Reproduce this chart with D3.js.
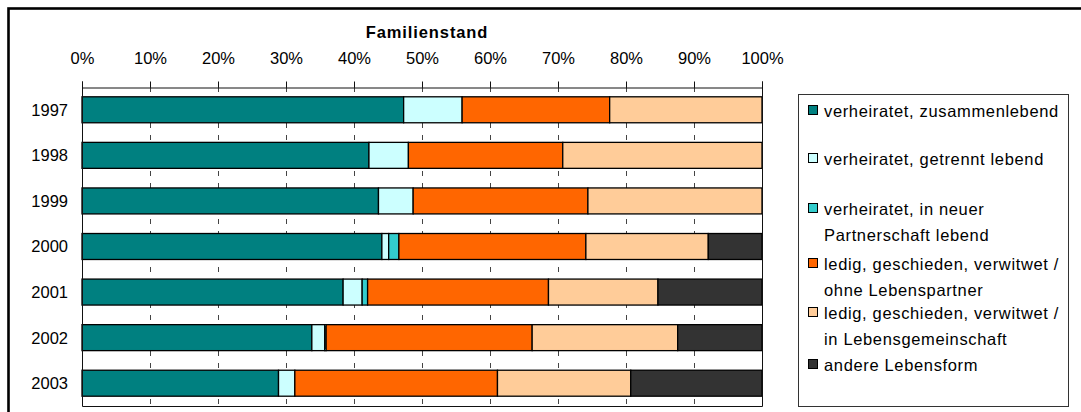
<!DOCTYPE html>
<html>
<head>
<meta charset="utf-8">
<script src="https://cdn.jsdelivr.net/npm/d3@7"></script>
<style>
  body { margin: 0; background: #fff; }
  svg { display: block; }
  text { font-family: Arial, "Liberation Sans", sans-serif; fill: #000; }
</style>
</head>
<body>
<svg id="chart" width="1081" height="412"></svg>
<script>
// data (percent of each year)
const years = ["1997", "1998", "1999", "2000", "2001", "2002", "2003"];
const zusammen   = [47.3, 42.2, 43.6, 44.1, 38.4, 33.8, 28.9];
const getrennt   = [8.6, 5.8, 5.1, 1.0, 2.8, 1.9, 2.4];
const neuePartn  = [0, 0, 0, 1.5, 0.8, 0.2, 0];
const ohnePartn  = [21.7, 22.7, 25.7, 27.5, 26.6, 30.3, 29.8];
const inGemeinsch = [22.4, 29.3, 25.6, 18.0, 16.1, 21.4, 19.6];
const andere     = [0, 0, 0, 7.9, 15.3, 12.4, 19.3];
const tickValues = [0, 10, 20, 30, 40, 50, 60, 70, 80, 90, 100];
const seriesNames = [
  ["verheiratet, zusammenlebend"],
  ["verheiratet, getrennt lebend"],
  ["verheiratet, in neuer", "Partnerschaft lebend"],
  ["ledig, geschieden, verwitwet /", "ohne Lebenspartner"],
  ["ledig, geschieden, verwitwet /", "in Lebensgemeinschaft"],
  ["andere Lebensform"]
];
const colors = ["#008080", "#ccffff", "#33cccc", "#ff6600", "#ffcc99", "#333333"];

const allSeries = [zusammen, getrennt, neuePartn, ohnePartn, inGemeinsch, andere];
const keys = d3.range(allSeries.length).map(String);
const rows = years.map(function(yr, i) {
  var r = { year: yr };
  allSeries.forEach(function(s, k) { r[k] = s[i]; });
  return r;
});

var svg = d3.select("#chart");

// outer frame
svg.append("rect")
    .attr("x", 8.5).attr("y", 8.5)
    .attr("width", 1200).attr("height", 600)
    .attr("fill", "none").attr("stroke", "#000").attr("stroke-width", 2.6);

var plotL = 82, plotR = 762, plotT = 87, plotB = 406;

var x = d3.scaleLinear().domain([0, 100]).range([plotL, plotR]);
var y = d3.scaleBand().domain(years).range([plotT, plotB])
    .paddingInner(0.43).paddingOuter(0.215);

// dashed gridlines
svg.append("g").selectAll("line")
    .data(tickValues.slice(1, -1))
    .join("line")
    .attr("x1", d => x(d) + 0.5).attr("x2", d => x(d) + 0.5)
    .attr("y1", plotT).attr("y2", plotB)
    .attr("stroke", "#444").attr("stroke-dasharray", "5,7");

// bars
var stacked = d3.stack().keys(keys)(rows);
svg.append("g").selectAll("g")
    .data(stacked)
    .join("g")
    .attr("fill", (d, i) => colors[i])
    .selectAll("rect")
    .data(d => d)
    .join("rect")
    .attr("x", d => x(d[0]))
    .attr("y", d => y(d.data.year))
    .attr("width", d => x(d[1]) - x(d[0]))
    .attr("height", y.bandwidth())
    .attr("stroke", "#000")
    .attr("stroke-width", 1.3);

// plot borders (left, right, bottom)
svg.append("path")
    .attr("d", "M" + (plotL + 0.5) + "," + plotT + "V" + (plotB + 0.5) + "H" + (plotR + 0.5) + "V" + plotT)
    .attr("fill", "none").attr("stroke", "#111");

// top axis
var axis = svg.append("g")
    .attr("transform", "translate(0," + (plotT + 0.5) + ")")
    .call(d3.axisTop(x).tickValues(tickValues).tickSize(6).tickFormat(d => d + "%"));
axis.select(".domain").attr("stroke", "#111");
axis.selectAll(".tick line").attr("stroke", "#111");
axis.selectAll(".tick text")
    .attr("y", -24)
    .attr("font-size", 16.5)
    .style("font-family", "Arial, 'Liberation Sans', sans-serif");

// year labels
svg.append("g").selectAll("text")
    .data(years)
    .join("text")
    .attr("x", 68)
    .attr("y", d => y(d) + y.bandwidth() / 2)
    .attr("dy", "0.36em")
    .attr("text-anchor", "end")
    .attr("font-size", 16.5)
    .text(d => d);

// title
svg.append("text")
    .attr("x", 427).attr("y", 38)
    .attr("text-anchor", "middle")
    .attr("font-size", 16.5)
    .attr("font-weight", "bold")
    .attr("letter-spacing", 0.9)
    .text("Familienstand");

// legend
var lg = svg.append("g");
lg.append("rect")
    .attr("x", 798.5).attr("y", 94.5)
    .attr("width", 270).attr("height", 312)
    .attr("fill", "#fff").attr("stroke", "#333");

var legendY = [111, 159, 209, 264, 313, 365];
seriesNames.forEach(function(lines, i) {
  lg.append("rect")
      .attr("x", 808.5).attr("y", legendY[i] - 5.5)
      .attr("width", 9).attr("height", 9)
      .attr("fill", colors[i]).attr("stroke", "#000");
  lines.forEach(function(t, j) {
    lg.append("text")
        .attr("x", 824)
        .attr("y", legendY[i] + j * 26)
        .attr("dy", "0.36em")
        .attr("font-size", 16.5)
        .attr("letter-spacing", 0.65)
        .text(t);
  });
});
</script>
</body>
</html>
